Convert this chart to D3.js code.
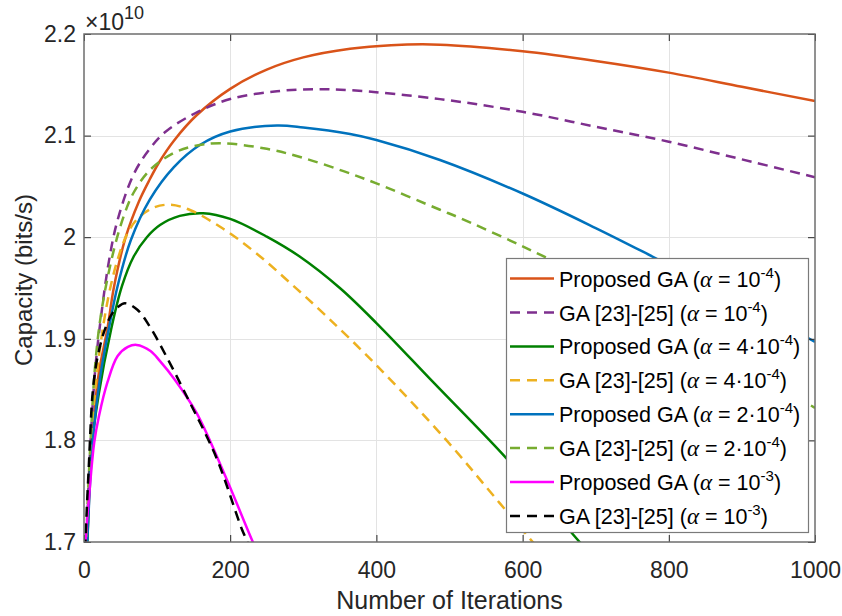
<!DOCTYPE html>
<html>
<head>
<meta charset="utf-8">
<script src="https://cdn.jsdelivr.net/npm/d3@7"></script>
<style>
  html, body { margin: 0; padding: 0; background: #fff; }
  svg { display: block; font-family: "Liberation Sans", Arial, Helvetica, sans-serif; }
</style>
</head>
<body>
<svg id="chart" width="842" height="616"></svg>
<script>
// Axis ticks
const xTicks = [0, 200, 400, 600, 800, 1000];
const xTickLabels = ["0", "200", "400", "600", "800", "1000"];
const yTicks = [1.7, 1.8, 1.9, 2.0, 2.1, 2.2];
const yTickLabels = ["1.7", "1.8", "1.9", "2", "2.1", "2.2"];

// Capacity (×10^10 bits/s) versus iteration, one array of [iteration, capacity] per curve
const propGA_1e4 = [[1,1.64],[4.5,1.70],[11,1.80],[20,1.865],[32,1.91],[41,1.951],[57,2.0],[75,2.035],[90,2.057],[103,2.074],[123,2.095],[154,2.120],[200,2.146],[250,2.165],[300,2.177],[364,2.1855],[420,2.189],[487,2.1895],[600,2.183],[700,2.1735],[800,2.162],[900,2.148],[1000,2.134]];
const refGA_1e4 = [[1,1.63],[3.5,1.70],[9,1.80],[16,1.875],[23,1.92],[34,1.976],[46,2.017],[68,2.062],[90,2.087],[112,2.104],[152,2.122],[200,2.136],[264,2.1437],[318,2.1457],[364,2.1447],[487,2.1359],[600,2.1234],[700,2.1087],[800,2.094],[900,2.0766],[1000,2.059]];
const propGA_4e4 = [[1,1.62],[4.5,1.70],[10,1.79],[20,1.845],[37,1.909],[52,1.952],[68,1.981],[86,2.0],[104,2.012],[131,2.021],[163,2.0236],[200,2.018],[250,2.0006],[295,1.981],[350,1.95],[400,1.9155],[478,1.857],[577,1.783],[678,1.70],[720,1.665]];
const refGA_4e4 = [[1,1.64],[4,1.71],[10,1.80],[20,1.88],[33,1.94],[46,1.978],[59,2.003],[73,2.018],[95,2.029],[118,2.032],[145,2.0268],[191,2.008],[236,1.984],[282,1.955],[332,1.922],[400,1.874],[496,1.80],[569,1.738],[615,1.699],[650,1.668]];
const propGA_2e4 = [[1,1.63],[4.5,1.70],[12,1.80],[22,1.862],[34,1.91],[46,1.952],[64,1.997],[90,2.037],[123,2.069],[159,2.091],[200,2.104],[264,2.110],[300,2.108],[364,2.1015],[400,2.0956],[487,2.076],[600,2.043],[700,2.009],[783,1.979],[900,1.936],[1000,1.897]];
const refGA_2e4 = [[1,1.64],[4,1.72],[9,1.80],[16,1.88],[25,1.932],[41,1.988],[55,2.022],[68,2.044],[90,2.066],[123,2.083],[150,2.0895],[186,2.0925],[250,2.087],[300,2.078],[355,2.065],[400,2.053],[487,2.027],[514,2.019],[600,1.991],[700,1.956],[800,1.916],[900,1.874],[1000,1.832]];
const propGA_1e3 = [[0.5,1.65],[2.3,1.701],[7,1.745],[14,1.798],[20.5,1.824],[32,1.857],[46,1.883],[60,1.892],[72,1.894],[91,1.888],[104,1.878],[124,1.86],[154,1.827],[195,1.762],[231,1.70],[250,1.67]];
const refGA_1e3 = [[0.5,1.66],[2.3,1.706],[7,1.781],[11.4,1.843],[16,1.872],[22,1.893],[28,1.908],[37,1.923],[46,1.931],[56,1.935],[73,1.9286],[90,1.912],[115,1.8795],[145,1.837],[165.5,1.8075],[184,1.778],[216,1.7125],[223,1.701],[240,1.67]];

const seriesNames = [
  {base: "Proposed GA (", coef: "",  exp: "-4"},
  {base: "GA [23]-[25] (", coef: "", exp: "-4"},
  {base: "Proposed GA (", coef: "4·", exp: "-4"},
  {base: "GA [23]-[25] (", coef: "4·", exp: "-4"},
  {base: "Proposed GA (", coef: "2·", exp: "-4"},
  {base: "GA [23]-[25] (", coef: "2·", exp: "-4"},
  {base: "Proposed GA (", coef: "",  exp: "-3"},
  {base: "GA [23]-[25] (", coef: "", exp: "-3"}
];
const seriesData = [propGA_1e4, refGA_1e4, propGA_4e4, refGA_4e4, propGA_2e4, refGA_2e4, propGA_1e3, refGA_1e3];
const seriesColors = ["#D95319", "#7E2F8E", "#008000", "#EDB120", "#0072BD", "#77AC30", "#FF00FF", "#000000"];
const seriesDashed = [false, true, false, true, false, true, false, true];

const svg = d3.select("#chart");
const plot = {left: 84, right: 815, top: 34, bottom: 542};

const x = d3.scaleLinear().domain([0, 1000]).range([plot.left, plot.right]);
const y = d3.scaleLinear().domain([1.7, 2.2]).range([plot.bottom, plot.top]);

// Grid
const grid = svg.append("g").attr("stroke", "#e3e3e3").attr("stroke-width", 1);
xTicks.slice(1, -1).forEach(v => grid.append("line")
  .attr("x1", Math.round(x(v)) + 0.5).attr("x2", Math.round(x(v)) + 0.5)
  .attr("y1", plot.top).attr("y2", plot.bottom));
yTicks.slice(1, -1).forEach(v => grid.append("line")
  .attr("y1", Math.round(y(v)) + 0.5).attr("y2", Math.round(y(v)) + 0.5)
  .attr("x1", plot.left).attr("x2", plot.right));

// Curves
svg.append("clipPath").attr("id", "plotClip").append("rect")
  .attr("x", plot.left).attr("y", plot.top)
  .attr("width", plot.right - plot.left).attr("height", plot.bottom - plot.top);

const line = d3.line().x(d => x(d[0])).y(d => y(d[1])).curve(d3.curveCatmullRom.alpha(0.5));
const curves = svg.append("g").attr("clip-path", "url(#plotClip)");
seriesData.forEach((data, i) => {
  curves.append("path")
    .attr("d", line(data))
    .attr("fill", "none")
    .attr("stroke", seriesColors[i])
    .attr("stroke-width", 2.5)
    .attr("stroke-dasharray", seriesDashed[i] ? "10,6.5" : null);
});

// Axes (ticks inward on all four sides)
const tickColor = "#262626";
const fmtX = (d, i) => xTickLabels[i];
const fmtY = (d, i) => yTickLabels[i];

const axB = svg.append("g").attr("transform", `translate(0,${plot.bottom})`)
  .call(d3.axisBottom(x).tickValues(xTicks).tickFormat(fmtX).tickSize(-7).tickPadding(20));
const axT = svg.append("g").attr("transform", `translate(0,${plot.top})`)
  .call(d3.axisTop(x).tickValues(xTicks).tickFormat("").tickSize(-7));
const axL = svg.append("g").attr("transform", `translate(${plot.left},0)`)
  .call(d3.axisLeft(y).tickValues(yTicks).tickFormat(fmtY).tickSize(-7).tickPadding(8));
const axR = svg.append("g").attr("transform", `translate(${plot.right},0)`)
  .call(d3.axisRight(y).tickValues(yTicks).tickFormat("").tickSize(-7));

[axB, axT, axL, axR].forEach(ax => {
  ax.select(".domain").remove();
  ax.selectAll(".tick line").attr("stroke", tickColor).attr("stroke-width", 1);
  ax.selectAll(".tick text").attr("fill", "#262626").style("font-size", "23px")
    .style("font-family", "'Liberation Sans', Arial, sans-serif");
});

// Box
svg.append("rect")
  .attr("x", plot.left).attr("y", plot.top)
  .attr("width", plot.right - plot.left).attr("height", plot.bottom - plot.top)
  .attr("fill", "none").attr("stroke", "#6e6e6e").attr("stroke-width", 1.5);

// Exponent label
const expo = svg.append("text").attr("x", 85).attr("y", 30)
  .attr("fill", "#262626").style("font-size", "23px");
expo.append("tspan").text("×10");
expo.append("tspan").attr("dy", -11).style("font-size", "18px").text("10");

// Axis titles
svg.append("text")
  .attr("x", (plot.left + plot.right) / 2).attr("y", 609)
  .attr("text-anchor", "middle").attr("fill", "#262626")
  .style("font-size", "25px").text("Number of Iterations");
svg.append("text")
  .attr("transform", `translate(32,${(plot.top + plot.bottom) / 2 - 8}) rotate(-90)`)
  .attr("text-anchor", "middle").attr("fill", "#262626")
  .style("font-size", "24px").text("Capacity (bits/s)");

// Legend
const lg = {x: 506, y: 258, w: 302, h: 274, rowH: 33.9, firstRow: 278.6};
const legend = svg.append("g");
legend.append("rect")
  .attr("x", lg.x + 0.5).attr("y", lg.y + 0.5)
  .attr("width", lg.w).attr("height", lg.h)
  .attr("fill", "#fff").attr("stroke", "#7a7a7a").attr("stroke-width", 1.2);

seriesNames.forEach((s, i) => {
  const cy = lg.firstRow + i * lg.rowH;
  legend.append("line")
    .attr("x1", lg.x + 4).attr("x2", lg.x + 48)
    .attr("y1", cy).attr("y2", cy)
    .attr("stroke", seriesColors[i]).attr("stroke-width", 2.5)
    .attr("stroke-dasharray", seriesDashed[i] ? "10,7" : null);
  const t = legend.append("text").attr("x", lg.x + 53).attr("y", cy + 8)
    .attr("fill", "#000").style("font-size", "21.5px");
  t.append("tspan").text(s.base);
  t.append("tspan").style("font-family", "'Liberation Serif', 'Times New Roman', serif")
    .style("font-style", "italic").style("font-size", "23px").text("α");
  t.append("tspan").text(" = " + s.coef + "10");
  t.append("tspan").attr("dy", -9).style("font-size", "15px").text(s.exp);
  t.append("tspan").attr("dy", 9).text(")");
});
</script>
</body>
</html>
